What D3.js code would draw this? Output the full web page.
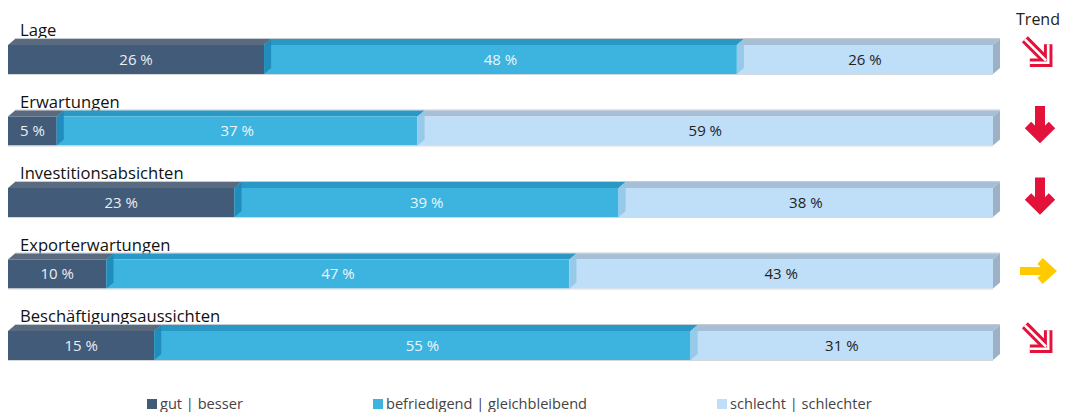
<!DOCTYPE html>
<html><head><meta charset="utf-8">
<script src="https://cdn.jsdelivr.net/npm/d3@7"></script>
<style>
html,body{margin:0;padding:0;background:#fff;}
svg{display:block;font-family:"Open Sans",sans-serif;}
</style></head>
<body><svg id="c" width="1065" height="412"></svg>
<script>
const categories = ["Lage","Erwartungen","Investitionsabsichten","Exporterwartungen","Beschäftigungsaussichten"];
const gut = [26,5,23,10,15];
const befriedigend = [48,37,39,47,55];
const schlecht = [26,59,38,43,31];
const trends = ["down-right","down","down","right","down-right"];
const seriesNames = ["gut | besser","befriedigend | gleichbleibend","schlecht | schlechter"];

const svg = d3.select("#c");
const frontH = 29, dx = 7, dy = 6;
const y = d3.scalePoint().domain(categories).range([45, 331]);
const front = ["#425b79","#3db4df","#bfdef8"];
const topC = ["#5a6b80","#2a98c4","#a7bfd6"];
const txtC = ["#e9eef4","#eaf6fc","#222"];
const edgeC = [null,"#1d88b8","#92c6e6"];

categories.forEach((cat,i)=>{
  const vals=[gut[i],befriedigend[i],schlecht[i]];
  const total=d3.sum(vals);
  const x=d3.scaleLinear().domain([0,total]).range([8,993]);
  const y0=y(cat);
  const g=svg.append("g");
  g.append("text").attr("x",20).attr("y",y0-9).attr("font-size",16.6).attr("fill","#111").text(cat);
  g.append("line").attr("x1",8+dx).attr("x2",x(total)+dx).attr("y1",y0-dy-0.5).attr("y2",y0-dy-0.5).attr("stroke","#c4ccd4").attr("stroke-width",1);
  let acc=0;
  vals.forEach((v,k)=>{
    const a=x(acc), b=x(acc+v);
    g.append("path").attr("d",`M${a},${y0}L${a+dx},${y0-dy}L${b+dx},${y0-dy}L${b},${y0}Z`).attr("fill",topC[k]);
    g.append("rect").attr("x",a).attr("y",y0).attr("width",b-a).attr("height",frontH).attr("fill",front[k]);
    acc+=v;
  });
  acc=0;
  vals.forEach((v,k)=>{
    if(k>0){
      const a=x(acc);
      g.append("path").attr("d",`M${a},${y0}L${a+dx},${y0-dy}L${a+dx},${y0+frontH-dy}L${a},${y0+frontH}Z`).attr("fill",edgeC[k]).attr("opacity",0.9);
    }
    acc+=v;
  });
  const e=x(total);
  g.append("path").attr("d",`M${e},${y0}L${e+dx},${y0-dy}L${e+dx},${y0+frontH-dy}L${e},${y0+frontH}Z`).attr("fill","#9db1c6");
  g.append("line").attr("x1",8).attr("x2",e).attr("y1",y0+frontH+0.5).attr("y2",y0+frontH+0.5).attr("stroke","#d4d8dc");
  acc=0;
  vals.forEach((v,k)=>{
    const cx=(x(acc)+x(acc+v))/2;
    g.append("text").attr("x",cx).attr("y",y0+frontH/2+5).attr("text-anchor","middle").attr("font-size",15).attr("fill",txtC[k]).text(v+" %");
    acc+=v;
  });
  const t=trends[i];
  const ti=g.append("g");
  const cy=y0+frontH/2-6;
  if(t==="down"){
    ti.attr("transform",`translate(1040,${cy}) rotate(90)`);
    ti.append("line").attr("x1",-19).attr("x2",10).attr("y1",0).attr("y2",0).attr("stroke","#e3123b").attr("stroke-width",10);
    ti.append("polyline").attr("points","0,-12 12,0 0,12").attr("fill","none").attr("stroke","#e3123b").attr("stroke-width",9).attr("stroke-linejoin","miter");
  } else if(t==="right"){
    ti.attr("transform",`translate(1038,${cy+3})`);
    ti.append("line").attr("x1",-18).attr("x2",10).attr("y1",0).attr("y2",0).attr("stroke","#ffcb00").attr("stroke-width",8);
    ti.append("polyline").attr("points","2,-10 13,0 2,10").attr("fill","none").attr("stroke","#ffcb00").attr("stroke-width",8).attr("stroke-linejoin","miter");
  } else {
    ti.attr("transform",`translate(1039,${cy}) rotate(45)`);
    [["#e3123b",8.5],["#fff",2.6]].forEach(([c,w])=>{
      ti.append("line").attr("x1",-20).attr("x2",10).attr("y1",0).attr("y2",0).attr("stroke",c).attr("stroke-width",w);
      ti.append("polyline").attr("points","0,-13 13,0 0,13").attr("fill","none").attr("stroke",c).attr("stroke-width",w).attr("stroke-linejoin","miter");
    });
  }
});

svg.append("text").attr("x",1038).attr("y",25).attr("text-anchor","middle").attr("font-size",16).attr("fill","#222").text("Trend");

const legX=[147,373,717];
seriesNames.forEach((n,k)=>{
  const lg=svg.append("g").attr("transform",`translate(${legX[k]},399)`);
  lg.append("rect").attr("width",10).attr("height",10).attr("fill",front[k]);
  lg.append("text").attr("x",13).attr("y",10).attr("font-size",14.6).attr("fill","#444").text(n);
});
</script></body></html>
